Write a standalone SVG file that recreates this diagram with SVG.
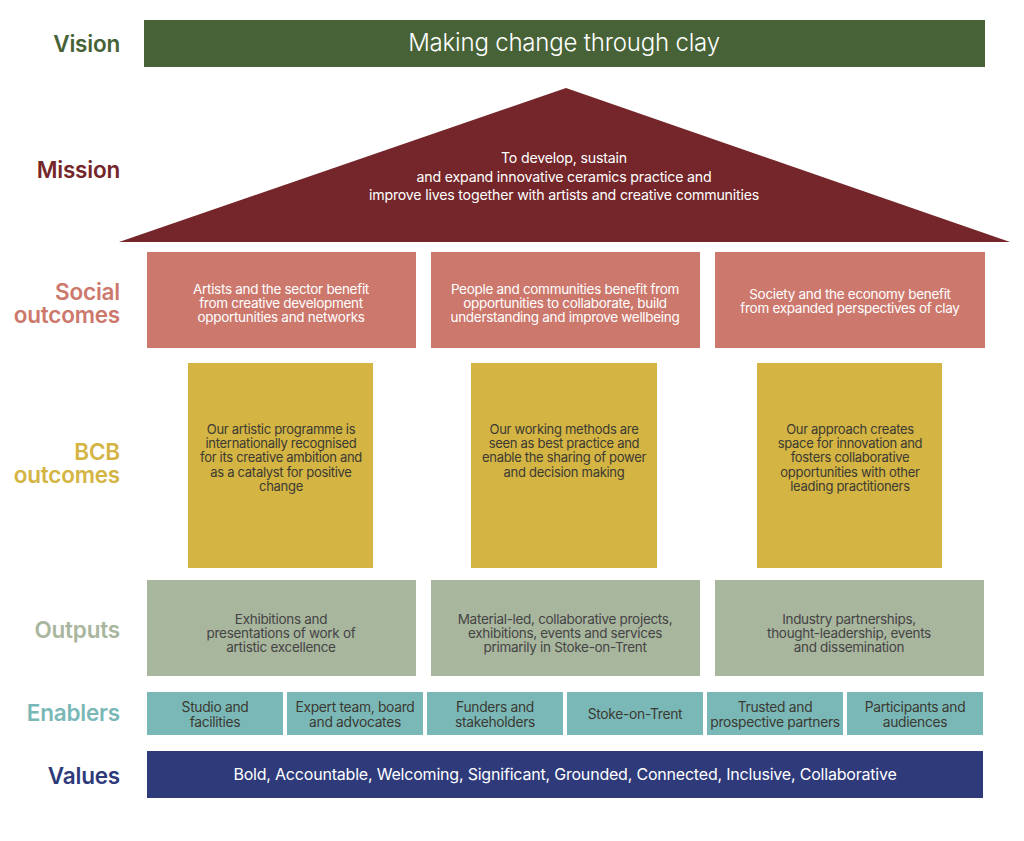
<svg xmlns="http://www.w3.org/2000/svg" width="1024" height="841" viewBox="0 0 1024 841">
<style>
text{font-family:Inter,"Liberation Sans",sans-serif;text-anchor:middle}
.lbl{font-size:22.5px;font-weight:600;text-anchor:end;letter-spacing:-0.2px}
.t{font-size:13px;letter-spacing:-0.3px}
.ts{font-size:13.5px;letter-spacing:-0.3px}
.te{font-size:13.8px;letter-spacing:-0.3px}
.w{fill:#ffffff}
.d{fill:#3b3a33}
.g{fill:#444444}
.vision{fill:#466236}
.mission{fill:#74262a}
.social{fill:#cd786d}
.bcb{fill:#d4b443}
.outputs{fill:#a9b69e}
.enab{fill:#7ab8b7}
.values{fill:#2e3a7a}
</style>
<rect width="1024" height="841" fill="#ffffff"/>

<g id="labels">
<text class="lbl vision" x="120" y="52">Vision</text>
<text class="lbl mission" x="120" y="178">Mission</text>
<text class="lbl social"><tspan x="120" y="300">Social</tspan><tspan x="120" y="323">outcomes</tspan></text>
<text class="lbl bcb"><tspan x="120" y="460">BCB</tspan><tspan x="120" y="483">outcomes</tspan></text>
<text class="lbl outputs" x="120" y="638">Outputs</text>
<text class="lbl enab" x="120" y="721">Enablers</text>
<text class="lbl values" x="120" y="784">Values</text>
</g>

<g id="vision">
<rect class="vision" x="144" y="20" width="841" height="47"/>
<text class="w" x="564" y="51" font-size="24" font-weight="300" letter-spacing="-0.2">Making change through clay</text>
</g>

<g id="mission">
<polygon class="mission" points="566,88 1010,242 119,242"/>
<text class="w" font-size="14.2" letter-spacing="-0.2"><tspan x="564" y="163">To develop, sustain</tspan><tspan x="564" y="182">and expand innovative ceramics practice and</tspan><tspan x="564" y="200">improve lives together with artists and creative communities</tspan></text>
</g>

<g id="social-1">
<rect class="social" x="147" y="252" width="269" height="96"/>
<text class="ts w"><tspan x="281" y="294">Artists and the sector benefit</tspan><tspan x="281" y="308">from creative development</tspan><tspan x="281" y="322">opportunities and networks</tspan></text>
</g>
<g id="social-2">
<rect class="social" x="431" y="252" width="269" height="96"/>
<text class="ts w"><tspan x="565" y="294">People and communities benefit from</tspan><tspan x="565" y="308">opportunities to collaborate, build</tspan><tspan x="565" y="322">understanding and improve wellbeing</tspan></text>
</g>
<g id="social-3">
<rect class="social" x="715" y="252" width="270" height="96"/>
<text class="ts w"><tspan x="850" y="299">Society and the economy benefit</tspan><tspan x="850" y="313">from expanded perspectives of clay</tspan></text>
</g>

<g id="bcb-1">
<rect class="bcb" x="188" y="363" width="185" height="205"/>
<text class="t d"><tspan x="281" y="434">Our artistic programme is</tspan><tspan x="281" y="448">internationally recognised</tspan><tspan x="281" y="462">for its creative ambition and</tspan><tspan x="281" y="477">as a catalyst for positive</tspan><tspan x="281" y="491">change</tspan></text>
</g>
<g id="bcb-2">
<rect class="bcb" x="471" y="363" width="186" height="205"/>
<text class="t d"><tspan x="564" y="434">Our working methods are</tspan><tspan x="564" y="448">seen as best practice and</tspan><tspan x="564" y="462">enable the sharing of power</tspan><tspan x="564" y="477">and decision making</tspan></text>
</g>
<g id="bcb-3">
<rect class="bcb" x="757" y="363" width="185" height="205"/>
<text class="t d"><tspan x="850" y="434">Our approach creates</tspan><tspan x="850" y="448">space for innovation and</tspan><tspan x="850" y="462">fosters collaborative</tspan><tspan x="850" y="477">opportunities with other</tspan><tspan x="850" y="491">leading practitioners</tspan></text>
</g>

<g id="outputs-1">
<rect class="outputs" x="147" y="580" width="269" height="96"/>
<text class="ts g"><tspan x="281" y="624">Exhibitions and</tspan><tspan x="281" y="638">presentations of work of</tspan><tspan x="281" y="652">artistic excellence</tspan></text>
</g>
<g id="outputs-2">
<rect class="outputs" x="431" y="580" width="269" height="96"/>
<text class="ts g"><tspan x="565" y="624">Material-led, collaborative projects,</tspan><tspan x="565" y="638">exhibitions, events and services</tspan><tspan x="565" y="652">primarily in Stoke-on-Trent</tspan></text>
</g>
<g id="outputs-3">
<rect class="outputs" x="715" y="580" width="269" height="96"/>
<text class="ts g"><tspan x="849" y="624">Industry partnerships,</tspan><tspan x="849" y="638">thought-leadership, events</tspan><tspan x="849" y="652">and dissemination</tspan></text>
</g>

<g id="enabler-1">
<rect class="enab" x="147" y="692" width="136" height="43"/>
<text class="te d"><tspan x="215" y="712">Studio and</tspan><tspan x="215" y="727">facilities</tspan></text>
</g>
<g id="enabler-2">
<rect class="enab" x="287" y="692" width="136" height="43"/>
<text class="te d"><tspan x="355" y="712">Expert team, board</tspan><tspan x="355" y="727">and advocates</tspan></text>
</g>
<g id="enabler-3">
<rect class="enab" x="427" y="692" width="136" height="43"/>
<text class="te d"><tspan x="495" y="712">Funders and</tspan><tspan x="495" y="727">stakeholders</tspan></text>
</g>
<g id="enabler-4">
<rect class="enab" x="567" y="692" width="136" height="43"/>
<text class="te d" x="635" y="719">Stoke-on-Trent</text>
</g>
<g id="enabler-5">
<rect class="enab" x="707" y="692" width="136" height="43"/>
<text class="te d"><tspan x="775" y="712">Trusted and</tspan><tspan x="775" y="727">prospective partners</tspan></text>
</g>
<g id="enabler-6">
<rect class="enab" x="847" y="692" width="136" height="43"/>
<text class="te d"><tspan x="915" y="712">Participants and</tspan><tspan x="915" y="727">audiences</tspan></text>
</g>

<g id="values">
<rect class="values" x="147" y="751" width="836" height="47"/>
<text class="w" x="565" y="780" font-size="16" letter-spacing="-0.2">Bold, Accountable, Welcoming, Significant, Grounded, Connected, Inclusive, Collaborative</text>
</g>

<g id="connectors"/>
</svg>
